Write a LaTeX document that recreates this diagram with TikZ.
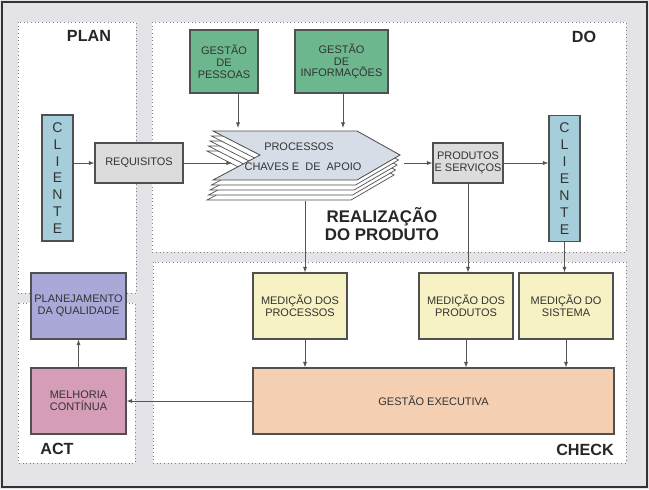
\documentclass[tikz,border=0pt]{standalone}
\usepackage{fontspec}
\setmainfont{Liberation Sans}
\usetikzlibrary{arrows.meta}

\definecolor{bgc}{HTML}{E3E3E8}
\definecolor{boxline}{HTML}{505050}
\definecolor{linec}{HTML}{555555}
\definecolor{txt}{HTML}{333333}
\definecolor{clic}{HTML}{A6CEDA}
\definecolor{reqc}{HTML}{DCDCDC}
\definecolor{gesc}{HTML}{6DB78E}
\definecolor{procc}{HTML}{D6DDE7}
\definecolor{medc}{HTML}{F6F2C4}
\definecolor{exec}{HTML}{F4CFB2}
\definecolor{planc}{HTML}{A9A8D8}
\definecolor{melc}{HTML}{D59DB7}

\begin{document}
\begin{tikzpicture}[x=0.025cm,y=-0.025cm,
  box/.style={draw=boxline,line width=0.8pt,text=txt,align=center,inner sep=1pt,
    font=\fontsize{7.8}{8.4}\selectfont},
  cli/.style={box,fill=clic,minimum width=0.775cm,minimum height=3.15cm,
    font=\fontsize{10}{12}\selectfont},
  panel/.style={fill=white,draw=gray,dotted,line width=0.6pt},
  phase/.style={font=\fontsize{11.5}{12}\selectfont\bfseries,text=black!85},
  arr/.style={draw=linec,line width=0.6pt,-{Latex[length=4pt,width=3pt]}}]
 	\useasboundingbox (0,0) rectangle (649,489);
 	\fill [bgc] (0,0) rectangle (649,489);
 	\draw [black!80,line width=1.2pt] (2,2) rectangle (647,487);
 	% panels
 	\draw [panel] (18,22) rectangle (136,293);
 	\draw [panel] (18,303) rectangle (135,463);
 	\draw [panel] (152,22) rectangle (626,252);
 	\draw [panel] (153,262) rectangle (626,463);
 	\node [phase] (lplan) at (89,36) {PLAN};
 	\node [phase] (ldo) at (584,37) {DO};
 	\node [phase] (lact) at (57,449) {ACT};
 	\node [phase] (lcheck) at (585,450) {CHECK};
 	% plan / do
 	\node [cli] (cliL) at (57.5,178) {C\\L\\I\\E\\N\\T\\E};
 	\node [box,fill=reqc,minimum width=2.2cm,minimum height=1cm] (req) at (139,163) {REQUISITOS};
 	\node [box,fill=gesc,minimum width=1.7cm,minimum height=1.575cm] (gpes) at (224,61.5) {GESTÃO\\DE\\PESSOAS};
 	\node [box,fill=gesc,minimum width=2.325cm,minimum height=1.575cm] (ginf) at (341.5,61.5) {GESTÃO\\DE\\INFORMAÇÕES};
 	\foreach \k in {4,3,2,1}
 	  \draw [boxline,fill=white,line width=0.5pt,shift={(-1.5*\k,5*\k)}] (213,131) -- (357,131) -- (400,155) -- (357,180) -- (213,180) -- (260,155) -- cycle;
 	\draw [boxline,fill=procc,line width=0.6pt] (213,131) -- (357,131) -- (400,155) -- (357,180) -- (213,180) -- (260,155) -- cycle;
 	\node [text=txt,font=\fontsize{7.8}{8.4}\selectfont] (proc1) at (299,147) {PROCESSOS};
 	\node [text=txt,font=\fontsize{7.8}{8.4}\selectfont] (proc2) at (303,167) {CHAVES E \ DE \ APOIO};
 	\coordinate (procIn) at (232,163);
 	\coordinate (procOut) at (404,163);
 	\coordinate (procTop1) at (238,128);
 	\coordinate (procTop2) at (343,128);
 	\coordinate (procBot) at (305,201);
 	\node [box,fill=reqc,minimum width=1.75cm,minimum height=1cm] (prod) at (468,163) {PRODUTOS\\E SERVIÇOS};
 	\node [cli] (cliR) at (564.5,178.5) {C\\L\\I\\E\\N\\T\\E};
 	\node [font=\fontsize{12}{12.8}\selectfont\bfseries,text=black!85,align=center] (real) at (382,224) {REALIZAÇÃO\\DO PRODUTO};
 	% check / act
 	\node [box,fill=medc,minimum width=2.35cm,minimum height=1.65cm] (mproc) at (300,306) {MEDIÇÃO DOS\\PROCESSOS};
 	\node [box,fill=medc,minimum width=2.35cm,minimum height=1.65cm] (mprod) at (466,306) {MEDIÇÃO DOS\\PRODUTOS};
 	\node [box,fill=medc,minimum width=2.35cm,minimum height=1.65cm] (msis) at (566,306) {MEDIÇÃO DO\\SISTEMA};
 	\node [box,fill=exec,minimum width=9.025cm,minimum height=1.65cm] (gexe) at (433.5,401) {GESTÃO EXECUTIVA};
 	\node [box,fill=planc,minimum width=2.375cm,minimum height=1.65cm] (plan) at (78.5,306) {PLANEJAMENTO\\DA QUALIDADE};
 	\node [box,fill=melc,minimum width=2.375cm,minimum height=1.65cm] (melh) at (78.5,401) {MELHORIA\\CONTÍNUA};
 	% arrows
 	\draw [arr] (cliL.east |- req) -- (req.west);
 	\draw [arr] (req.east) -- (procIn);
 	\draw [arr] (procTop1 |- gpes.south) -- (procTop1);
 	\draw [arr] (procTop2 |- ginf.south) -- (procTop2);
 	\draw [arr] (procOut) -- (prod.west);
 	\draw [arr] (prod.east) -- (prod.east -| cliR.west);
 	\draw [arr] (procBot) -- (procBot |- mproc.north);
 	\draw [arr] (prod.south) -- (prod.south |- mprod.north);
 	\draw [arr] (cliR.south) -- (cliR.south |- msis.north);
 	\draw [arr] (procBot |- mproc.south) -- (procBot |- gexe.north);
 	\draw [arr] (mprod.south) -- (mprod.south |- gexe.north);
 	\draw [arr] (msis.south) -- (msis.south |- gexe.north);
 	\draw [arr] (gexe.west) -- (melh.east);
 	\draw [arr] (melh) -- (plan);
\end{tikzpicture}
\end{document}
